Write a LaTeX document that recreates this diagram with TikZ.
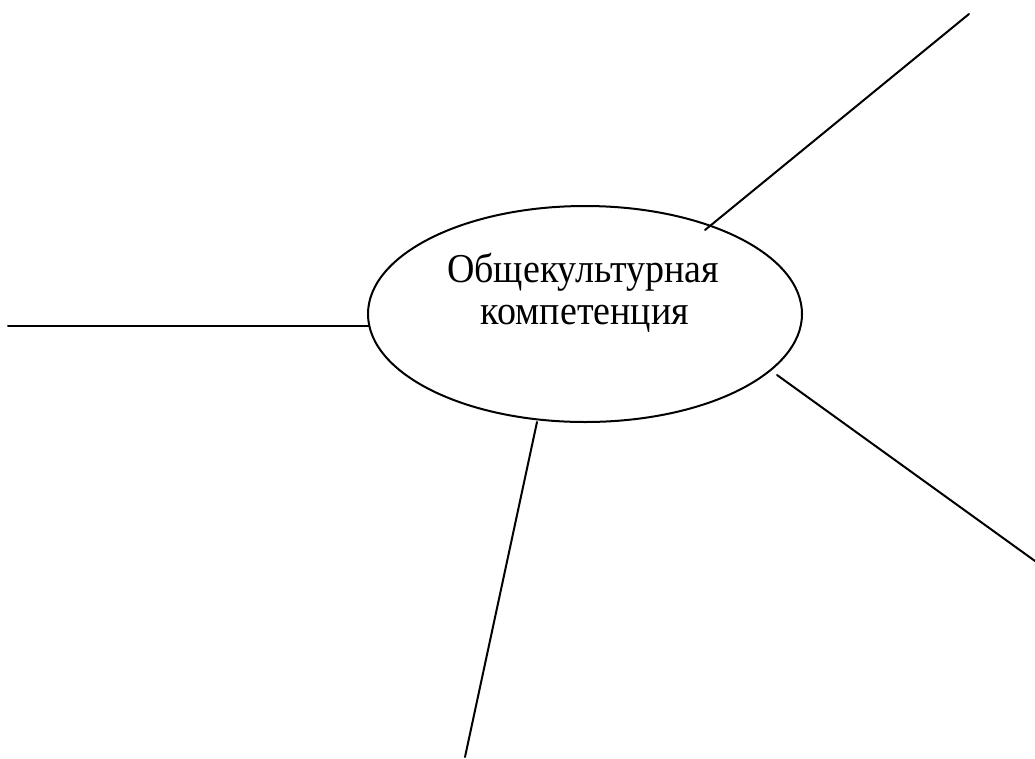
\documentclass[tikz,border=0pt]{standalone}
\usepackage{fontspec}
\usepackage{graphicx}
\setmainfont{Liberation Serif}
\usetikzlibrary{shapes.geometric}
\newcommand{\tallertext}[1]{\scalebox{1}[1.08]{#1}}
\begin{document}
\begin{tikzpicture}[x=1pt,y=-1pt,
  conn/.style={line width=2pt,line cap=round},
  lbl/.style={anchor=base,inner sep=0pt,font=\fontsize{38}{42}\selectfont}]
\useasboundingbox (0,0) rectangle (1035,758);
\node[draw,ellipse,line width=2pt,minimum width=434pt,minimum height=216pt,inner sep=0pt] (ell) at (585,314) {};
\node[lbl] (l1) at (583,282) {\tallertext{Общекультурная}};
\node[lbl] (l2) at (585,324) {\tallertext{компетенция}};
\coordinate (a1) at (8,326);   \coordinate (a2) at (369,326);
\coordinate (b1) at (705,230); \coordinate (b2) at (969,14);
\coordinate (c1) at (777,375); \coordinate (c2) at (1035,561);
\coordinate (d1) at (537,422); \coordinate (d2) at (465,757);
\draw[conn] (a1) -- (a2);
\draw[conn] (b1) -- (b2);
\draw[conn] (c1) -- (c2);
\draw[conn] (d1) -- (d2);
\end{tikzpicture}
\end{document}
